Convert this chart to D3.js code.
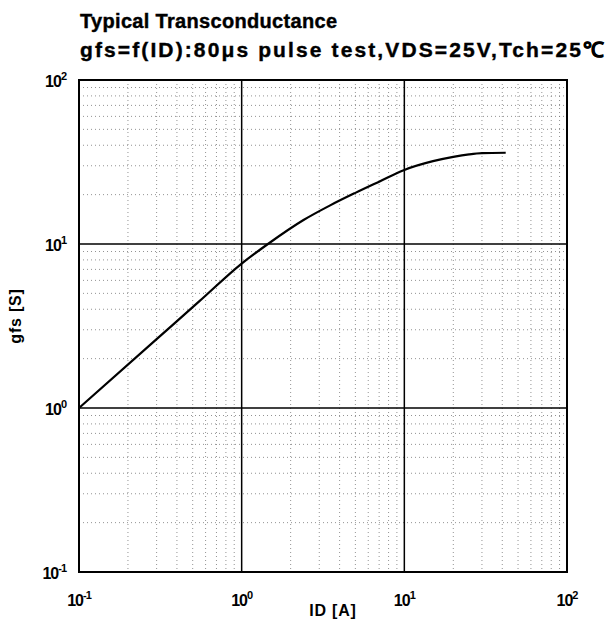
<!DOCTYPE html>
<html>
<head>
<meta charset="utf-8">
<script src="https://cdn.jsdelivr.net/npm/d3@7"></script>
<style>
body { margin: 0; background: #fff; }
svg { display: block; font-family: "Liberation Sans", Arial, sans-serif; }
</style>
</head>
<body>
<div id="chart"></div>
<script>
// curve: ID [A] vs gfs [S]
const idValues = [0.1, 0.3, 0.55, 1.0, 1.45, 2.4, 3.5, 5.0, 7.0, 10, 15, 20, 25, 30, 42];
const gfsValues = [1.0, 2.63, 4.48, 7.6, 10, 14, 17.2, 20.5, 24, 28.3, 32, 34, 35.2, 35.8, 36];
const decadeTicks = [0.1, 1, 10, 100];
const decadeExp = ["-1", "0", "1", "2"];

const width = 606, height = 632;
const margin = { left: 79, right: 39, top: 80, bottom: 60 };

const svg = d3.select("#chart").append("svg")
	.attr("width", width)
	.attr("height", height);

const x = d3.scaleLog().domain([0.1, 100]).range([margin.left, width - margin.right]);
const y = d3.scaleLog().domain([0.1, 100]).range([height - margin.bottom, margin.top]);

// minor grid, dotted
const minor = [];
for (const d of [0.1, 1, 10]) for (let k = 2; k <= 9; k++) minor.push(d * k);

const grid = svg.append("g")
	.attr("stroke", "#777")
	.attr("stroke-width", 0.8)
	.attr("stroke-dasharray", "1,3");
grid.selectAll("line.vx")
	.data(minor)
	.enter().append("line")
	.attr("x1", d => x(d)).attr("x2", d => x(d))
	.attr("y1", y(100)).attr("y2", y(0.1));
grid.selectAll("line.hy")
	.data(minor)
	.enter().append("line")
	.attr("y1", d => y(d)).attr("y2", d => y(d))
	.attr("x1", x(0.1)).attr("x2", x(100));

// decade lines
const major = svg.append("g")
	.attr("stroke", "#000")
	.attr("stroke-width", 1.5);
major.selectAll("line.mx")
	.data([1, 10])
	.enter().append("line")
	.attr("x1", d => x(d)).attr("x2", d => x(d))
	.attr("y1", y(100)).attr("y2", y(0.1));
major.selectAll("line.my")
	.data([1, 10])
	.enter().append("line")
	.attr("y1", d => y(d)).attr("y2", d => y(d))
	.attr("x1", x(0.1)).attr("x2", x(100));

// frame
svg.append("rect")
	.attr("x", x(0.1)).attr("y", y(100))
	.attr("width", x(100) - x(0.1))
	.attr("height", y(0.1) - y(100))
	.attr("fill", "none")
	.attr("stroke", "#000")
	.attr("stroke-width", 2);

// curve
svg.append("path")
	.datum(idValues.map((v, i) => [v, gfsValues[i]]))
	.attr("fill", "none")
	.attr("stroke", "#000")
	.attr("stroke-width", 2.2)
	.attr("d", d3.line()
		.x(d => x(d[0]))
		.y(d => y(d[1]))
		.curve(d3.curveMonotoneX));

// tick labels, 10^n
function powLabel(g, exp) {
	g.append("tspan").text("10");
	g.append("tspan")
		.attr("dy", -7)
		.attr("font-size", 11)
		.text(exp);
}

svg.append("g").selectAll("text")
	.data(decadeTicks)
	.enter().append("text")
	.attr("x", 66)
	.attr("y", d => y(d) + 7)
	.attr("text-anchor", "end")
	.attr("font-size", 16)
	.attr("font-weight", "bold")
	.attr("letter-spacing", -1)
	.each(function(d, i) { powLabel(d3.select(this), decadeExp[i]); });

svg.append("g").selectAll("text")
	.data(decadeTicks)
	.enter().append("text")
	.attr("x", d => x(d))
	.attr("y", 606)
	.attr("text-anchor", "middle")
	.attr("font-size", 16)
	.attr("font-weight", "bold")
	.attr("letter-spacing", -1)
	.each(function(d, i) { powLabel(d3.select(this), decadeExp[i]); });

// axis titles
svg.append("text")
	.attr("transform", "translate(21, 316) rotate(-90)")
	.attr("text-anchor", "middle")
	.attr("font-size", 16)
	.attr("font-weight", "bold")
	.attr("letter-spacing", 0.8)
	.text("gfs [S]");

svg.append("text")
	.attr("x", 333)
	.attr("y", 616)
	.attr("text-anchor", "middle")
	.attr("font-size", 16)
	.attr("font-weight", "bold")
	.attr("letter-spacing", 0.8)
	.text("ID [A]");

// titles
svg.append("text")
	.attr("x", 80)
	.attr("y", 28)
	.attr("font-size", 20)
	.attr("font-weight", "bold")
	.attr("stroke", "#000")
	.attr("stroke-width", 0.4)
	.attr("textLength", 257)
	.attr("lengthAdjust", "spacing")
	.text("Typical Transconductance");

svg.append("text")
	.attr("x", 80)
	.attr("y", 57)
	.attr("font-size", 21)
	.attr("font-weight", "bold")
	.attr("stroke", "#000")
	.attr("stroke-width", 0.4)
	.attr("textLength", 524)
	.attr("lengthAdjust", "spacing")
	.text("gfs=f(ID):80μs pulse test,VDS=25V,Tch=25℃");
</script>
</body>
</html>
